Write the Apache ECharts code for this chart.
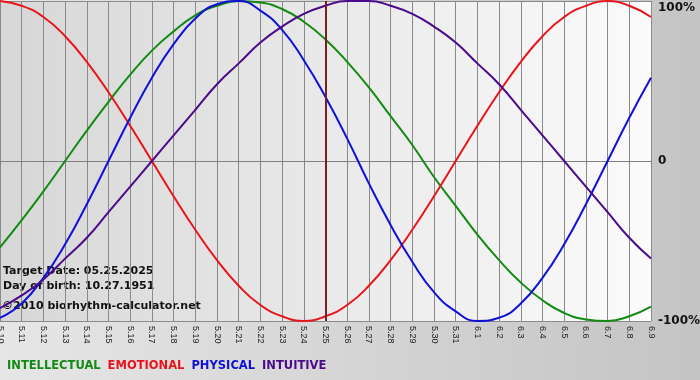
<!DOCTYPE html>
<html>
<head>
<meta charset="utf-8">
<script src="https://cdn.jsdelivr.net/npm/echarts@6/dist/echarts.min.js"></script>
<style>
  html, body { margin: 0; padding: 0; }
  #chart { width: 700px; height: 380px; background: linear-gradient(to right, #e6e6e6, #c4c4c4); }
</style>
</head>
<body>
<div id="chart"></div>
<script>
// days shown on the x axis (month.day)
const days = [
  '5.10', '5.11', '5.12', '5.13', '5.14', '5.15', '5.16', '5.17', '5.18', '5.19', '5.20',
  '5.21', '5.22', '5.23', '5.24', '5.25', '5.26', '5.27', '5.28', '5.29', '5.30', '5.31',
  '6.1', '6.2', '6.3', '6.4', '6.5', '6.6', '6.7', '6.8', '6.9'
]
const targetDay = '5.25'

// cycle values, -1 .. 1, one per day
const intellectual = [
  -0.54, -0.37, -0.19, 0.00, 0.19, 0.37, 0.54, 0.69, 0.81, 0.91, 0.97,
  1.00, 0.99, 0.95, 0.87, 0.76, 0.62, 0.46, 0.28, 0.10, -0.10, -0.28,
  -0.46, -0.62, -0.76, -0.87, -0.95, -0.99, -1.00, -0.97, -0.91
]
const emotional = [
  1.00, 0.97, 0.90, 0.78, 0.62, 0.43, 0.22, 0.00, -0.22, -0.43, -0.62,
  -0.78, -0.90, -0.97, -1.00, -0.97, -0.90, -0.78, -0.62, -0.43, -0.22, 0.00,
  0.22, 0.43, 0.62, 0.78, 0.90, 0.97, 1.00, 0.97, 0.90
]
const physical = [
  -0.98, -0.89, -0.73, -0.52, -0.27, 0.00, 0.27, 0.52, 0.73, 0.89, 0.98,
  1.00, 0.94, 0.82, 0.63, 0.40, 0.14, -0.14, -0.40, -0.63, -0.82, -0.94,
  -1.00, -0.98, -0.89, -0.73, -0.52, -0.27, 0.00, 0.27, 0.52
]
const intuitive = [
  -0.92, -0.84, -0.74, -0.61, -0.48, -0.32, -0.16, 0.00, 0.16, 0.32, 0.48,
  0.61, 0.74, 0.84, 0.92, 0.97, 1.00, 1.00, 0.97, 0.92, 0.84, 0.74,
  0.61, 0.48, 0.32, 0.16, 0.00, -0.16, -0.32, -0.48, -0.61
]

const yTicks = { '1': '100%', '0': '0', '-1': '-100%' }

const FONT = 'DejaVu Sans'

const chart = echarts.init(document.getElementById('chart'), null, { renderer: 'canvas' })

function lineSeries(name, data, color) {
  return {
    name: name,
    type: 'line',
    data: data,
    smooth: true,
    symbol: 'none',
    lineStyle: { color: color, width: 2 },
    itemStyle: { color: color },
    silent: true
  }
}

const series = [
  lineSeries('INTELLECTUAL', intellectual, '#138a13'),
  lineSeries('EMOTIONAL', emotional, '#e8141c'),
  lineSeries('PHYSICAL', physical, '#1010d8'),
  lineSeries('INTUITIVE', intuitive, '#4b0a8a')
]

// dark red marker on the target date
series[0].markLine = {
  silent: true,
  symbol: 'none',
  label: { show: false },
  lineStyle: { color: '#7a1f1f', width: 2, type: 'solid' },
  data: [{ xAxis: targetDay }]
}

const options = {
  animation: false,
  grid: {
    left: 0,
    right: 49,
    top: 1,
    bottom: 59,
    show: true,
    borderWidth: 0,
    backgroundColor: new echarts.graphic.LinearGradient(0, 0, 1, 0, [
      { offset: 0, color: '#d7d7d7' },
      { offset: 1, color: '#fbfbfb' }
    ]),
    outerBoundsMode: 'none'
  },
  xAxis: {
    type: 'category',
    data: days,
    boundaryGap: false,
    axisLine: { show: true, lineStyle: { color: '#808080', width: 1 } },
    axisTick: { show: true, length: 4, lineStyle: { color: '#808080' } },
    splitLine: { show: true, lineStyle: { color: '#8a8a8a', width: 1 } },
    axisLabel: {
      interval: 0,
      rotate: -90,
      margin: 5,
      color: '#222',
      fontSize: 9,
      fontFamily: 'Liberation Sans Narrow, Liberation Sans'
    }
  },
  yAxis: {
    type: 'value',
    position: 'right',
    min: -1,
    max: 1,
    interval: 1,
    axisLine: { show: false },
    axisTick: { show: false },
    splitLine: { show: true, lineStyle: { color: '#8a8a8a', width: 1 } },
    axisLabel: {
      margin: 7,
      color: '#111',
      fontSize: 12,
      fontWeight: 'bold',
      fontFamily: FONT,
      formatter: v => v === 1 ? '{top|' + yTicks['1'] + '}' : yTicks[String(v)],
      rich: {
        top: {
          padding: [13, 0, 0, 0],
          color: '#111',
          fontSize: 12,
          fontWeight: 'bold',
          fontFamily: FONT
        }
      }
    }
  },
  legend: {
    left: -3,
    top: 354,
    icon: 'none',
    itemWidth: 0,
    itemHeight: 14,
    itemGap: 2,
    selectedMode: false,
    textStyle: { fontSize: 11.5, fontWeight: 'bold', fontFamily: FONT },
    data: series.map(s => ({ name: s.name, textStyle: { color: s.lineStyle.color } }))
  },
  graphic: [
    {
      type: 'text', left: 3, top: 266, silent: true,
      style: { text: 'Target Date: 05.25.2025', fill: '#111', font: 'bold 11px "DejaVu Sans"' }
    },
    {
      type: 'text', left: 3, top: 281, silent: true,
      style: { text: 'Day of birth: 10.27.1951', fill: '#111', font: 'bold 11px "DejaVu Sans"' }
    },
    {
      type: 'text', left: 2, top: 301, silent: true,
      style: { text: '©2010 biorhythm-calculator.net', fill: '#111', font: 'bold 11px "DejaVu Sans"' }
    }
  ],
  series: series
}

chart.setOption(options)
</script>
</body>
</html>
